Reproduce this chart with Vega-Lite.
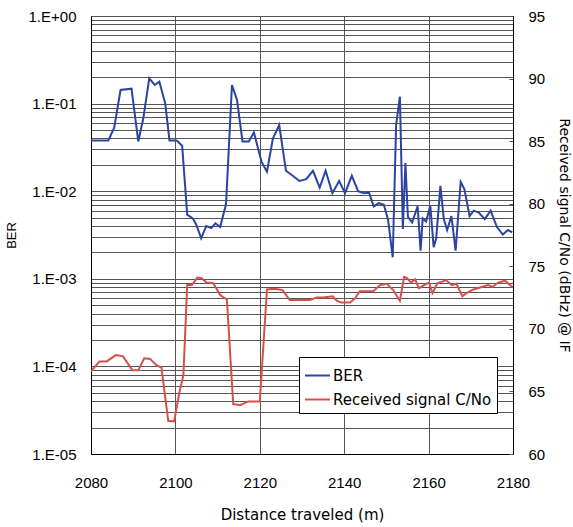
{
  "$schema": "https://vega.github.io/schema/vega-lite/v6.json",
  "width": 422,
  "height": 438,
  "autosize": {"type": "none"},
  "padding": {"left": 91, "top": 16, "right": 60, "bottom": 73},
  "background": "white",
  "config": {
    "view": {"stroke": "black", "strokeWidth": 1},
    "axis": {
      "labelFont": "Liberation Sans",
      "labelFontSize": 15,
      "labelColor": "black",
      "titleFont": "Liberation Sans",
      "titleFontWeight": "normal",
      "titleColor": "black",
      "domainColor": "black",
      "gridColor": "#555",
      "gridWidth": 1,
      "gridOpacity": 1,
      "tickColor": "#555"
    }
  },
  "datasets": {
    "ber": [
      {"d": 2080, "v": 0.038}, {"d": 2084.1, "v": 0.038}, {"d": 2085.5, "v": 0.053}, {"d": 2087.0, "v": 0.143},
      {"d": 2089.6, "v": 0.148}, {"d": 2091.2, "v": 0.037}, {"d": 2092.4, "v": 0.068}, {"d": 2093.8, "v": 0.194},
      {"d": 2095.1, "v": 0.163}, {"d": 2096.2, "v": 0.178}, {"d": 2097.6, "v": 0.1}, {"d": 2098.6, "v": 0.038},
      {"d": 2100.3, "v": 0.038}, {"d": 2101.6, "v": 0.033}, {"d": 2102.8, "v": 0.0054}, {"d": 2104.1, "v": 0.0049},
      {"d": 2104.9, "v": 0.0042}, {"d": 2106.1, "v": 0.0029}, {"d": 2107.3, "v": 0.004}, {"d": 2108.5, "v": 0.0038},
      {"d": 2109.5, "v": 0.0043}, {"d": 2110.6, "v": 0.0039}, {"d": 2112.0, "v": 0.0071}, {"d": 2113.4, "v": 0.163},
      {"d": 2114.6, "v": 0.11}, {"d": 2115.9, "v": 0.037}, {"d": 2117.4, "v": 0.037}, {"d": 2118.6, "v": 0.047},
      {"d": 2120.4, "v": 0.0217}, {"d": 2121.7, "v": 0.0167}, {"d": 2123.1, "v": 0.04}, {"d": 2124.6, "v": 0.057},
      {"d": 2126.2, "v": 0.0171}, {"d": 2127.8, "v": 0.015}, {"d": 2129.4, "v": 0.0131}, {"d": 2131.0, "v": 0.0137},
      {"d": 2132.6, "v": 0.0171}, {"d": 2134.2, "v": 0.011}, {"d": 2135.6, "v": 0.0171}, {"d": 2137.2, "v": 0.0095},
      {"d": 2138.8, "v": 0.0131}, {"d": 2140.2, "v": 0.0095}, {"d": 2141.8, "v": 0.015}, {"d": 2143.3, "v": 0.01},
      {"d": 2144.7, "v": 0.0095}, {"d": 2145.9, "v": 0.0096}, {"d": 2147.0, "v": 0.0067}, {"d": 2148.2, "v": 0.0073},
      {"d": 2149.4, "v": 0.007}, {"d": 2150.4, "v": 0.0047}, {"d": 2151.5, "v": 0.00176}, {"d": 2152.3, "v": 0.057},
      {"d": 2153.2, "v": 0.12}, {"d": 2153.9, "v": 0.0037}, {"d": 2154.5, "v": 0.021}, {"d": 2155.1, "v": 0.0051},
      {"d": 2156.1, "v": 0.0044}, {"d": 2157.4, "v": 0.0067}, {"d": 2158.1, "v": 0.0021}, {"d": 2158.6, "v": 0.0049},
      {"d": 2159.4, "v": 0.0045}, {"d": 2160.4, "v": 0.0068}, {"d": 2161.2, "v": 0.0023}, {"d": 2161.8, "v": 0.0029},
      {"d": 2162.8, "v": 0.0115}, {"d": 2163.6, "v": 0.0048}, {"d": 2164.4, "v": 0.0036}, {"d": 2165.4, "v": 0.0052},
      {"d": 2166.4, "v": 0.0021}, {"d": 2167.6, "v": 0.0128}, {"d": 2168.5, "v": 0.0105}, {"d": 2169.7, "v": 0.0052},
      {"d": 2170.7, "v": 0.006}, {"d": 2171.9, "v": 0.0057}, {"d": 2173.3, "v": 0.0048}, {"d": 2174.7, "v": 0.006},
      {"d": 2176.2, "v": 0.0039}, {"d": 2177.6, "v": 0.0032}, {"d": 2178.8, "v": 0.0036}, {"d": 2179.8, "v": 0.0034}
    ],
    "cno": [
      {"d": 2080, "v": 66.6}, {"d": 2082.0, "v": 67.4}, {"d": 2083.7, "v": 67.4}, {"d": 2085.9, "v": 67.9},
      {"d": 2087.6, "v": 67.8}, {"d": 2089.8, "v": 66.7}, {"d": 2091.2, "v": 66.7}, {"d": 2092.6, "v": 67.65},
      {"d": 2094.0, "v": 67.6}, {"d": 2095.5, "v": 67.1}, {"d": 2096.7, "v": 66.9}, {"d": 2098.3, "v": 62.65},
      {"d": 2099.7, "v": 62.6}, {"d": 2100.9, "v": 64.85}, {"d": 2101.9, "v": 66.3}, {"d": 2102.8, "v": 73.5},
      {"d": 2103.9, "v": 73.5}, {"d": 2105.2, "v": 74.1}, {"d": 2106.2, "v": 74.05}, {"d": 2107.4, "v": 73.7},
      {"d": 2109.0, "v": 73.65}, {"d": 2110.6, "v": 72.7}, {"d": 2112.2, "v": 72.35}, {"d": 2113.7, "v": 64.0},
      {"d": 2115.3, "v": 63.9}, {"d": 2117.3, "v": 64.2}, {"d": 2120.0, "v": 64.2}, {"d": 2121.7, "v": 73.15},
      {"d": 2123.5, "v": 73.2}, {"d": 2125.4, "v": 73.1}, {"d": 2127.1, "v": 72.3}, {"d": 2129.5, "v": 72.3},
      {"d": 2131.8, "v": 72.3}, {"d": 2133.5, "v": 72.5}, {"d": 2135.0, "v": 72.5}, {"d": 2137.3, "v": 72.6},
      {"d": 2138.2, "v": 72.25}, {"d": 2139.4, "v": 72.1}, {"d": 2141.4, "v": 72.1}, {"d": 2142.6, "v": 72.45},
      {"d": 2143.7, "v": 73.0}, {"d": 2144.9, "v": 73.0}, {"d": 2146.9, "v": 73.0}, {"d": 2148.5, "v": 73.5},
      {"d": 2150.1, "v": 73.6}, {"d": 2151.6, "v": 73.1}, {"d": 2153.2, "v": 72.25}, {"d": 2154.2, "v": 74.15},
      {"d": 2154.9, "v": 74.05}, {"d": 2155.8, "v": 73.7}, {"d": 2156.8, "v": 73.95}, {"d": 2157.7, "v": 73.25},
      {"d": 2158.9, "v": 73.5}, {"d": 2160.1, "v": 73.7}, {"d": 2160.9, "v": 72.85}, {"d": 2162.1, "v": 73.65},
      {"d": 2163.1, "v": 73.75}, {"d": 2164.1, "v": 73.9}, {"d": 2165.5, "v": 73.5}, {"d": 2166.6, "v": 73.6},
      {"d": 2168.0, "v": 72.6}, {"d": 2169.0, "v": 72.85}, {"d": 2170.6, "v": 73.15}, {"d": 2172.6, "v": 73.35},
      {"d": 2174.1, "v": 73.5}, {"d": 2175.2, "v": 73.35}, {"d": 2176.5, "v": 73.7}, {"d": 2178.1, "v": 73.85},
      {"d": 2180.0, "v": 73.3}
    ]
  },
  "layer": [
    {
      "data": {"name": "ber"},
      "mark": {"type": "line", "strokeWidth": 2, "clip": true},
      "encoding": {
        "x": {
          "field": "d", "type": "quantitative",
          "scale": {"domain": [2080, 2180], "nice": false, "zero": false},
          "axis": {
            "values": [2080, 2100, 2120, 2140, 2160, 2180],
            "format": "d",
            "grid": true,
            "ticks": false,
            "labelPadding": 21,
            "labelFlush": false,
            "title": "Distance traveled (m)",
            "titleFont": "DejaVu Sans",
            "titleFontSize": 15,
            "titlePadding": 17
          }
        },
        "y": {
          "field": "v", "type": "quantitative",
          "scale": {"type": "log", "domain": [0.00001, 1], "nice": false},
          "axis": {
            "orient": "left",
            "values": [0.00001, 0.00002, 0.00003, 0.00004, 0.00005, 0.00006, 0.00007, 0.00008, 0.00009,
                       0.0001, 0.0002, 0.0003, 0.0004, 0.0005, 0.0006, 0.0007, 0.0008, 0.0009,
                       0.001, 0.002, 0.003, 0.004, 0.005, 0.006, 0.007, 0.008, 0.009,
                       0.01, 0.02, 0.03, 0.04, 0.05, 0.06, 0.07, 0.08, 0.09,
                       0.1, 0.2, 0.3, 0.4, 0.5, 0.6, 0.7, 0.8, 0.9, 1],
            "labelExpr": "abs(log(datum.value)/LN10 - round(log(datum.value)/LN10)) < 0.001 ? ('1.E' + (datum.value >= 0.999 ? '+00' : '-0' + round(-log(datum.value)/LN10))) : ''",
            "labelOverlap": false,
            "labelFlush": false,
            "grid": true,
            "ticks": false,
            "labelPadding": 15,
            "title": "BER",
            "titleFontSize": 13,
            "titlePadding": 10
          }
        },
        "color": {
          "datum": "BER",
          "type": "nominal",
          "scale": {"domain": ["BER", "Received signal C/No"], "range": ["#2A44A0", "#D5504C"]},
          "legend": {
            "orient": "none", "legendX": 208, "legendY": 341, "title": null,
            "symbolType": "stroke", "symbolSize": 625, "symbolStrokeWidth": 2,
            "labelFont": "DejaVu Sans", "labelFontSize": 15, "labelColor": "black", "labelOffset": 2,
            "strokeColor": "black", "fillColor": "white", "padding": 5, "rowPadding": 2
          }
        }
      }
    },
    {
      "data": {"name": "cno"},
      "mark": {"type": "line", "strokeWidth": 2, "clip": true},
      "encoding": {
        "x": {"field": "d", "type": "quantitative", "scale": {"domain": [2080, 2180], "nice": false, "zero": false}},
        "y": {
          "field": "v", "type": "quantitative",
          "scale": {"domain": [60, 95], "nice": false, "zero": false},
          "axis": {
            "orient": "right",
            "values": [60, 65, 70, 75, 80, 85, 90, 95],
            "grid": false,
            "ticks": true,
            "tickSize": -4,
            "labelPadding": 19,
            "labelFlush": false,
            "title": "Received signal C/No (dBHz) @ IF",
            "titleFont": "DejaVu Sans",
            "titleFontSize": 14,
            "titlePadding": 12
          }
        },
        "color": {"datum": "Received signal C/No", "type": "nominal"}
      }
    }
  ],
  "resolve": {"scale": {"y": "independent"}, "axis": {"y": "independent"}}
}
